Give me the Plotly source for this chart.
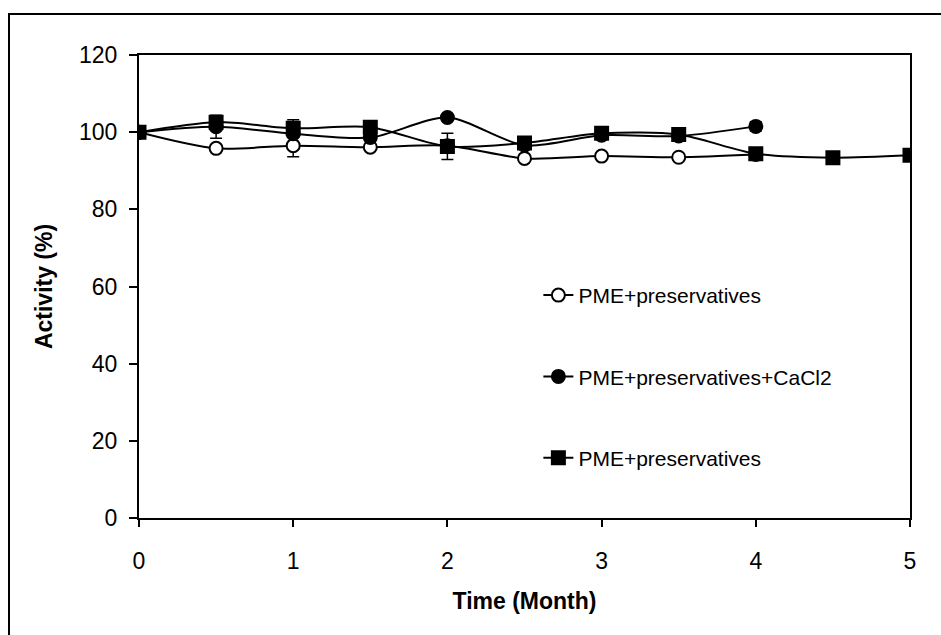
import plotly.graph_objects as go

# ---- data ----
months_a = [0, 0.5, 1, 1.5, 2, 2.5, 3, 3.5, 4]
months_b = [0, 0.5, 1, 1.5, 2, 2.5, 3, 3.5, 4, 4.5, 5]

pme_open = [100, 95.8, 96.5, 96.1, 96.5, 93.2, 93.8, 93.5, 94.2]
pme_open_err = [0, 0.8, 2.9, 0.5, 0.5, 0.5, 0.5, 0.5, 0.5]

pme_cacl2 = [100, 101.4, 99.6, 98.6, 103.8, 96.6, 99.2, 99.0, 101.5]
pme_cacl2_err = [0, 3.0, 0.8, 0.8, 0.8, 0.8, 0.8, 0.8, 1.2]

pme_square = [100, 102.6, 101.0, 101.3, 96.3, 97.2, 99.7, 99.4, 94.4, 93.4, 94.0]
pme_square_err = [0, 0.8, 2.2, 0.6, 3.4, 0.6, 0.6, 0.6, 1.2, 0.4, 0.4]

names = ["PME+preservatives", "PME+preservatives+CaCl2", "PME+preservatives"]
x_ticks = [0, 1, 2, 3, 4, 5]
y_ticks = [0, 20, 40, 60, 80, 100, 120]

FONT = "Liberation Sans, Arial, sans-serif"

fig = go.Figure()

def add(x, y, err, name, symbol, fill, grp):
    fig.add_trace(go.Scatter(
        x=x, y=y, name=name, mode="lines+markers", legendgroup=grp,
        line=dict(color="black", width=2, shape="spline", smoothing=0.8),
        marker=dict(symbol=symbol, size=13, color=fill, line=dict(color="black", width=2)),
        error_y=dict(type="data", array=err, visible=True, color="black", thickness=1.5, width=6),
    ))

add(months_a, pme_open, pme_open_err, names[0], "circle", "white", "g1")
add(months_a, pme_cacl2, pme_cacl2_err, names[1], "circle", "black", "g2")
add(months_b, pme_square, pme_square_err, names[2], "square", "black", "g3")

fig.update_layout(
    width=941, height=635,
    margin=dict(l=139, r=31, t=55, b=117),
    paper_bgcolor="white", plot_bgcolor="white",
    font=dict(family=FONT, color="black", size=22),
    legend=dict(x=0.518, y=0.525, xanchor="left", yanchor="top",
                font=dict(size=21, family=FONT), tracegroupgap=51,
                bgcolor="rgba(0,0,0,0)", traceorder="grouped"),
    showlegend=True,
    xaxis=dict(range=[0, 5], tickvals=x_ticks, ticks="outside", ticklen=7, tickwidth=2,
               tickcolor="black", showline=True, linecolor="black", linewidth=2, mirror=True,
               showgrid=False, zeroline=False, ticklabelstandoff=14,
               title=dict(text="<b>Time (Month)</b>", font=dict(size=23), standoff=20),
               tickfont=dict(size=23)),
    yaxis=dict(range=[0, 120], tickvals=y_ticks, ticks="outside", ticklen=8, tickwidth=2,
               tickcolor="black", showline=True, linecolor="black", linewidth=2, mirror=True,
               showgrid=False, zeroline=False, ticklabelstandoff=7,
               title=dict(text="<b>Activity (%)</b>", font=dict(size=23), standoff=20),
               tickfont=dict(size=23)),
    shapes=[dict(type="rect", xref="paper", yref="paper",
                 x0=-130/771, x1=1.3, y0=-0.5, y1=(518-14)/463,
                 line=dict(color="black", width=2), fillcolor="rgba(0,0,0,0)", layer="below")],
)

fig.write_html("out.html")
